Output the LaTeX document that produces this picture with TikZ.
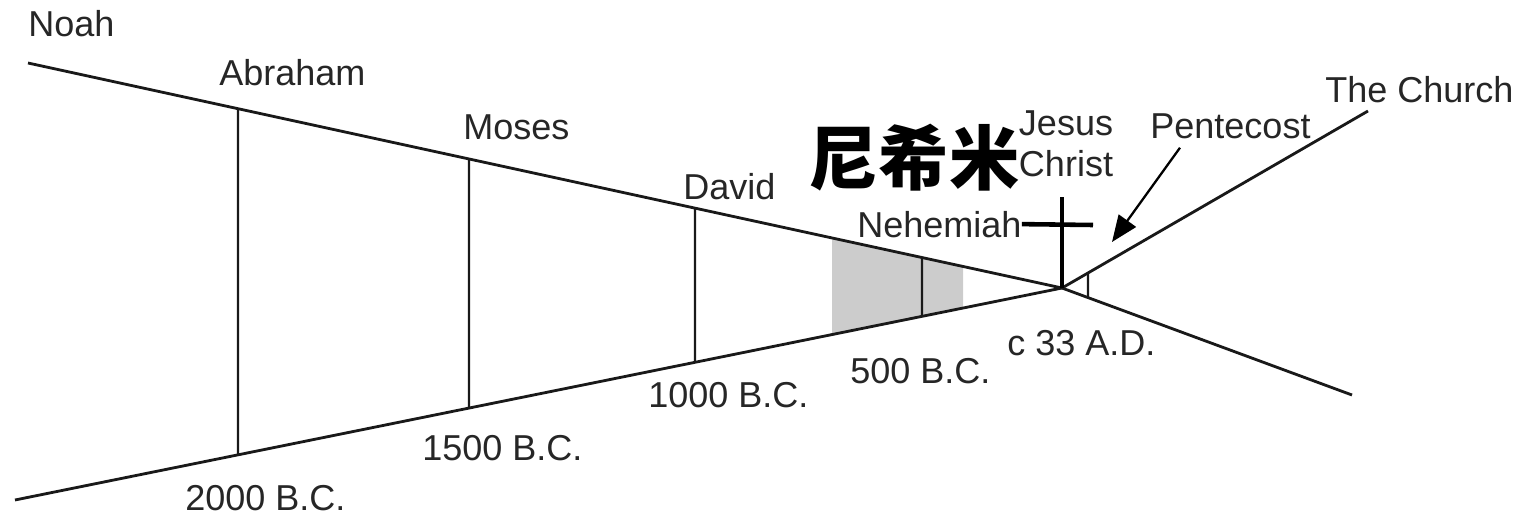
\documentclass[tikz,border=0pt]{standalone}
\usepackage{fontspec}
\setmainfont{Liberation Sans}
\newfontfamily\cjk{Noto Sans CJK SC}
\usetikzlibrary{arrows.meta,calc}

\begin{document}
\begin{tikzpicture}[x=0.02cm,y=-0.02cm,
  every node/.style={font=\fontsize{20.5}{23.5}\selectfont,text=black!85,inner sep=0pt},
  mainline/.style={line width=1.6pt,black!90},
  eraline/.style={line width=1.3pt,black!90}]
\useasboundingbox (0,0) rectangle (1532,517);
\coordinate (u0) at (28,63);
\coordinate (l0) at (15,500);
\coordinate (x) at (1062,288);
\coordinate (r1) at (1352,395);
\coordinate (c1) at (1368,111);
\coordinate (crosstop) at (1062,197);
\coordinate (barR) at (1093,225);
% shaded band
\fill[black!20] ($(u0)!{(832-28)/1034}!(x)$) -- ($(u0)!{(963-28)/1034}!(x)$)
  -- ($(l0)!{(963-15)/1047}!(x)$) -- ($(l0)!{(832-15)/1047}!(x)$) -- cycle;
\draw[mainline] (u0)--(x)--(r1);
\draw[mainline] (l0)--(x);
\draw[mainline] (x)--(c1);
\foreach \xv in {238,469,695,922}
  \draw[eraline] ($(u0)!{(\xv-28)/1034}!(x)$) -- ($(l0)!{(\xv-15)/1047}!(x)$);
\draw[eraline] ($(x)!{26/306}!(c1)$) -- ($(x)!{26/290}!(r1)$);
% labels
\node[anchor=base west] (noah) at (28,37) {Noah};
\node[anchor=base west] (abraham) at (219,86) {Abraham};
\node[anchor=base west] (moses) at (463,140) {Moses};
\node[anchor=base west] (david) at (683,199) {David};
\node[anchor=base west] (neh) at (857,237) {Nehemiah};
\node[align=center] (jesus) at (1066,144) {Jesus\\Christ};
\node[anchor=base west] (pent) at (1150,138) {Pentecost};
\node[anchor=base west] (church) at (1325,103) {The Church};
\node[anchor=base west] (ad33) at (1007,355) {c 33 A.D.};
\node[anchor=base west] (bc500) at (850,383) {500 B.C.};
\node[anchor=base west] (bc1000) at (648,407) {1000 B.C.};
\node[anchor=base west] (bc1500) at (422,460) {1500 B.C.};
\node[anchor=base west] (bc2000) at (185,510) {2000 B.C.};
\node[font=\cjk\bfseries\fontsize{40}{44}\selectfont,text=black] (nehcn) at (914,158) {尼希米};
% cross and arrow
\draw[line width=2.8pt] (crosstop)--(x);
\draw[line width=2.6pt] (neh.east)--(barR);
\draw[line width=1.3pt,-{Triangle[length=15pt,width=12pt]}] ($(pent.south west)+(30,9)$) -- (1112,242);
\end{tikzpicture}
\end{document}
